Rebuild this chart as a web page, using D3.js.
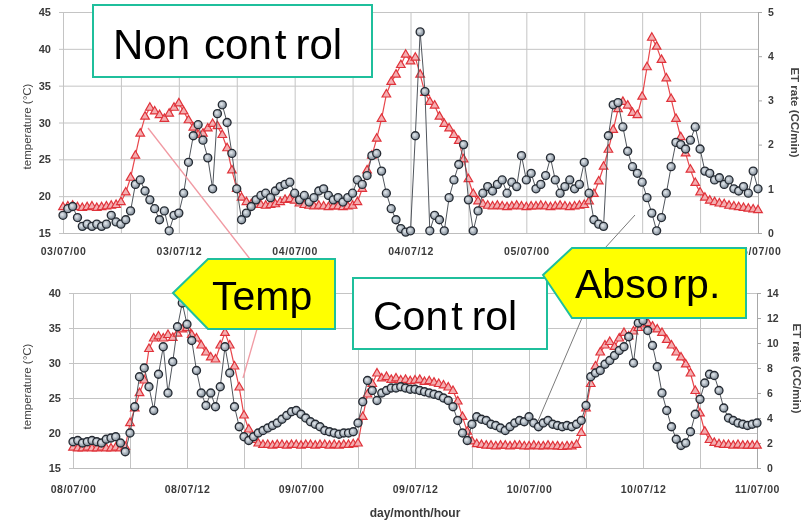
<!DOCTYPE html>
<html>
<head>
<meta charset="utf-8">
<script src="https://cdn.jsdelivr.net/npm/d3@7"></script>
<style>
  body { margin: 0; background: #fff; }
  svg { display: block; }
</style>
</head>
<body>
<svg id="chart" width="809" height="525"></svg>
<script>
// Sampling interval of the logged series (hours)
const stepHours = 0.5;

const topDateLabels = ["03/07/00", "03/07/12", "04/07/00", "04/07/12", "05/07/00", "05/07/12", "06/07/00"];
const bottomDateLabels = ["08/07/00", "08/07/12", "09/07/00", "09/07/12", "10/07/00", "10/07/12", "11/07/00"];
const topTempTicks = [15, 20, 25, 30, 35, 40, 45];
const topEtTicks = [0, 1, 2, 3, 4, 5];
const bottomTempTicks = [15, 20, 25, 30, 35, 40];
const bottomEtTicks = [0, 2, 4, 6, 8, 10, 12, 14];

// Non-controlled run, 03/07 00:00 – 06/07 00:00
const topTemp = [
  18.5, 18.6, 18.7, 18.5, 18.4, 18.5, 18.6, 18.4, 18.5, 18.6, 18.7, 18.8,
  19.2, 20.5, 22.5, 25.5, 28.5, 30.8, 32.0, 31.5, 31.0, 30.5, 31.2, 32.0,
  32.6, 31.5, 30.3, 29.3, 28.3, 28.5, 29.2, 29.8, 29.5, 28.3, 26.5, 23.5,
  21.0, 19.8, 19.2, 18.9, 18.8, 18.8, 18.7, 18.8, 18.9, 19.2, 19.5, 19.6,
  19.4, 19.0, 18.8, 18.7, 18.6, 18.7, 18.6, 18.5, 18.6, 18.6, 18.5, 18.6,
  18.7, 19.2, 21.0, 23.5, 25.5, 27.8, 30.5, 33.8, 35.5, 36.5, 37.8, 39.2,
  38.3, 38.8, 36.5, 34.0, 32.8, 32.3, 30.8, 29.8, 29.2, 28.3, 27.5, 25.0,
  22.3, 20.3, 19.3, 18.9, 18.7, 18.6, 18.7, 18.6, 18.5, 18.6, 18.7, 18.6,
  18.5, 18.6, 18.6, 18.7, 18.6, 18.5, 18.6, 18.7, 18.6, 18.5, 18.6, 18.7,
  18.8, 19.3, 20.3, 22.0, 24.0, 26.3, 29.0, 31.8, 32.8, 32.3, 31.3, 31.0,
  33.5, 37.5, 41.5, 40.3, 38.5, 36.0, 33.2, 30.5, 28.0, 25.8, 23.6, 21.8,
  20.5, 19.8, 19.4, 19.2, 19.0, 18.9, 18.7, 18.6, 18.5, 18.4, 18.3, 18.2,
  18.1
];
const topEt = [
  0.40, 0.55, 0.60, 0.35, 0.15, 0.20, 0.15, 0.20, 0.15, 0.20, 0.40, 0.25,
  0.20, 0.30, 0.50, 1.10, 1.20, 0.95, 0.75, 0.55, 0.30, 0.50, 0.05, 0.40,
  0.45, 0.90, 1.60, 2.20, 2.45, 2.10, 1.70, 1.00, 2.70, 2.90, 2.50, 1.80,
  1.00, 0.30, 0.45, 0.60, 0.75, 0.85, 0.90, 0.80, 0.95, 1.05, 1.10, 1.15,
  0.90, 0.75, 0.85, 0.70, 0.80, 0.95, 1.00, 0.85, 0.75, 0.80, 0.70, 0.80,
  0.90, 1.20, 1.10, 1.30, 1.75, 1.80, 1.40, 0.90, 0.55, 0.30, 0.10, 0.02,
  0.05, 2.20, 4.55, 3.20, 0.05, 0.40, 0.30, 0.05, 0.80, 1.20, 1.55, 2.00,
  0.75, 0.05, 0.50, 0.90, 1.05, 0.95, 1.10, 1.20, 0.90, 1.15, 1.05, 1.75,
  1.20, 1.35, 1.00, 1.10, 1.30, 1.70, 1.20, 0.90, 1.05, 1.20, 1.00, 1.10,
  1.60, 0.90, 0.30, 0.20, 0.15, 2.20, 2.90, 2.95, 2.40, 1.85, 1.50, 1.35,
  1.15, 0.80, 0.45, 0.05, 0.35, 0.90, 1.50, 2.05, 2.00, 1.90, 2.10, 2.40,
  1.90, 1.40, 1.35, 1.20, 1.25, 1.10, 1.20, 1.00, 0.95, 1.05, 0.90, 1.40,
  1.00
];

// Controlled run, 08/07 00:00 – 11/07 00:00
const bottomTemp = [
  17.9, 17.8, 17.8, 17.9, 17.8, 17.8, 17.9, 17.8, 17.8, 17.9, 17.8, 18.0,
  21.4, 23.5, 25.7, 27.5, 32.0, 33.5, 33.8, 33.5, 34.0, 33.6, 34.2, 34.8,
  35.0, 34.0, 33.5, 32.5, 31.5, 30.8, 30.5, 32.5, 34.3, 32.5, 29.5, 26.5,
  22.5, 20.5, 19.0, 18.5, 18.3, 18.3, 18.2, 18.3, 18.3, 18.2, 18.3, 18.3,
  18.2, 18.3, 18.3, 18.2, 18.3, 18.3, 18.2, 18.3, 18.2, 18.3, 18.3, 18.4,
  18.5, 22.3, 25.5, 27.0, 28.5, 27.8, 28.0, 27.6, 27.8, 27.5, 27.6, 27.4,
  27.5, 27.6, 27.3, 27.4, 27.2, 27.0, 26.8, 26.5, 26.0, 24.5, 22.3, 20.2,
  18.8, 18.4, 18.3, 18.2, 18.2, 18.1, 18.2, 18.2, 18.1, 18.2, 18.2, 18.1,
  18.1, 18.2, 18.1, 18.1, 18.2, 18.1, 18.1, 18.0, 18.1, 18.1, 18.3, 20.0,
  23.5, 27.0, 29.5, 31.5, 32.5, 33.0, 32.3, 33.5, 34.3, 33.8, 34.5, 35.0,
  35.5, 35.7, 35.2, 34.8, 34.3, 33.3, 32.5, 31.5, 30.8, 29.8, 28.5, 26.0,
  22.8, 20.2, 19.0, 18.6, 18.4, 18.3, 18.3, 18.2, 18.3, 18.2, 18.2, 18.2,
  18.2
];
const bottomEt = [
  2.1, 2.2, 2.0, 2.1, 2.2, 2.1, 2.0, 2.3, 2.4, 2.5, 2.0, 1.3,
  2.8, 4.9, 7.3, 8.0, 6.5, 4.6, 7.5, 9.7, 6.0, 8.5, 11.3, 13.2,
  11.5, 10.2, 7.8, 6.0, 5.0, 6.0, 4.9, 6.5, 9.7, 7.6, 4.9, 3.3,
  2.5, 2.2, 2.5, 2.8, 3.0, 3.2, 3.4, 3.6, 3.9, 4.2, 4.5, 4.6,
  4.3, 4.0, 3.7, 3.5, 3.3, 3.0, 2.9, 2.8, 2.7, 2.8, 2.8, 2.9,
  3.6, 5.3, 7.0, 6.2, 5.4, 6.0, 6.2, 6.4, 6.4, 6.5, 6.4, 6.3,
  6.3, 6.2, 6.1, 6.0, 5.9, 5.8, 5.6, 5.4, 4.9, 3.8, 2.8, 2.2,
  3.5, 4.1, 3.9, 3.8, 3.5, 3.4, 3.2, 3.0, 3.3, 3.6, 3.8, 3.7,
  4.1, 3.6, 3.3, 3.6, 3.8, 3.5, 3.4, 3.3, 3.4, 3.3, 3.5, 3.8,
  5.0, 7.3, 7.6, 7.8, 8.3, 8.6, 9.0, 9.4, 9.7, 10.5, 8.4, 11.6,
  11.8, 11.0, 9.8, 8.1, 6.0, 4.6, 3.3, 2.3, 1.8, 2.0, 2.9, 4.3,
  5.5, 6.8, 7.5, 7.4, 6.2, 4.8, 4.0, 3.8, 3.6, 3.5, 3.4, 3.5,
  3.6
];

const svg = d3.select("#chart");
const FONT = "'Liberation Sans', Arial, sans-serif";

const defs = svg.append("defs");
defs.append("filter").attr("id", "soft")
  .attr("x", "-5%").attr("y", "-5%").attr("width", "110%").attr("height", "110%")
  .append("feGaussianBlur").attr("stdDeviation", 0.45);
const grad = defs.append("radialGradient").attr("id", "bead").attr("cx", "40%").attr("cy", "40%").attr("r", "60%");
grad.append("stop").attr("offset", "0%").attr("stop-color", "#e6ebf0");
grad.append("stop").attr("offset", "100%").attr("stop-color", "#7d8995");

function drawPanel(cfg) {
  const g = svg.append("g").attr("filter", "url(#soft)");
  const x = d3.scaleLinear().domain([0, 72]).range([cfg.left, cfg.right]);
  const yT = d3.scaleLinear().domain(cfg.tempDomain).range([cfg.bottom, cfg.top]);
  const yE = d3.scaleLinear().domain(cfg.etDomain).range([cfg.bottom, cfg.top]);

  // horizontal grid + left tick labels
  const left = g.append("g").attr("transform", `translate(${cfg.left},0)`)
    .call(d3.axisLeft(yT).tickValues(cfg.tempTicks).tickSize(-(cfg.right - cfg.left)).tickPadding(12));
  left.select(".domain").remove();
  left.selectAll(".tick line").attr("stroke", "#c4c4c4").attr("x1", -4);
  left.selectAll(".tick text").attr("font-family", FONT).attr("font-size", 11)
    .attr("font-weight", "bold").attr("fill", "#3a3a3a");

  // vertical grid every 6 h + date labels every 12 h
  const vgrid = g.append("g").attr("transform", `translate(0,${cfg.bottom})`)
    .call(d3.axisBottom(x).tickValues(d3.range(0, 73, 6)).tickSize(-(cfg.bottom - cfg.top)).tickFormat(""));
  vgrid.select(".domain").remove();
  vgrid.selectAll(".tick line").attr("stroke", "#c4c4c4");

  const xa = g.append("g").attr("transform", `translate(0,${cfg.bottom})`)
    .call(d3.axisBottom(x).tickValues([0, 12, 24, 36, 48, 60, 72])
      .tickFormat((d, i) => cfg.dateLabels[i]).tickSize(0).tickPadding(cfg.labelPad));
  xa.select(".domain").attr("stroke", "#bdbdbd");
  xa.selectAll(".tick text").attr("font-family", FONT).attr("font-size", 10.5)
    .attr("font-weight", "bold").attr("fill", "#3a3a3a").attr("letter-spacing", 0.6);

  // right axis (ET rate)
  const ra = g.append("g").attr("transform", `translate(${cfg.right},0)`)
    .call(d3.axisRight(yE).tickValues(cfg.etTicks).tickFormat(d3.format("d")).tickSize(4).tickPadding(6));
  ra.select(".domain").attr("stroke", "#a8a8a8");
  ra.selectAll(".tick line").attr("stroke", "#a8a8a8");
  ra.selectAll(".tick text").attr("font-family", FONT).attr("font-size", 10.5)
    .attr("font-weight", "bold").attr("fill", "#3a3a3a");

  // axis titles
  const midY = (cfg.top + cfg.bottom) / 2;
  g.append("text").attr("transform", `translate(${cfg.leftTitleX},${midY + cfg.leftTitleDy}) rotate(-90)`)
    .attr("text-anchor", "middle").attr("font-family", FONT).attr("font-size", 11.5)
    .attr("fill", "#444").text("temperature (°C)");
  g.append("text").attr("transform", `translate(${cfg.rightTitleX},${midY + cfg.rightTitleDy}) rotate(90)`)
    .attr("text-anchor", "middle").attr("font-family", FONT).attr("font-size", 11.5)
    .attr("font-weight", "bold").attr("fill", "#444").text("ET rate (CC/min)");

  // temperature: red triangles
  const tLine = d3.line().x((d, i) => x(i * stepHours)).y(d => yT(d));
  g.append("path").datum(cfg.temp).attr("d", tLine).attr("fill", "none")
    .attr("stroke", "#e8474c").attr("stroke-width", 1.2);
  const tri = d3.symbol(d3.symbolTriangle, 32);
  g.append("g").selectAll("path").data(cfg.temp).join("path")
    .attr("d", tri)
    .attr("transform", (d, i) => `translate(${x(i * stepHours)},${yT(d)})`)
    .attr("fill", "#f4aeb1").attr("stroke", "#e0333a").attr("stroke-width", 1.2);

  // ET rate: grey beads on a thin line
  const eLine = d3.line().x((d, i) => x(i * stepHours)).y(d => yE(d));
  g.append("path").datum(cfg.et).attr("d", eLine).attr("fill", "none")
    .attr("stroke", "#50555c").attr("stroke-width", 1);
  g.append("g").selectAll("circle").data(cfg.et).join("circle")
    .attr("cx", (d, i) => x(i * stepHours)).attr("cy", d => yE(d)).attr("r", 4)
    .attr("fill", "url(#bead)").attr("stroke", "#252b33").attr("stroke-width", 1.3);
}

drawPanel({
  left: 63, right: 758, top: 12, bottom: 233,
  tempDomain: [15, 45], etDomain: [0, 5],
  tempTicks: topTempTicks, etTicks: topEtTicks, dateLabels: topDateLabels,
  temp: topTemp, et: topEt, labelPad: 15,
  leftTitleX: 31, leftTitleDy: 4, rightTitleX: 791, rightTitleDy: -10
});
drawPanel({
  left: 73, right: 757, top: 293, bottom: 468,
  tempDomain: [15, 40], etDomain: [0, 14],
  tempTicks: bottomTempTicks, etTicks: bottomEtTicks, dateLabels: bottomDateLabels,
  temp: bottomTemp, et: bottomEt, labelPad: 18,
  leftTitleX: 31, leftTitleDy: 6, rightTitleX: 793, rightTitleDy: -12
});

svg.append("text").attr("x", 415).attr("y", 517).attr("text-anchor", "middle")
  .attr("font-family", FONT).attr("font-size", 12).attr("font-weight", "bold")
  .attr("fill", "#3a3a3a").attr("filter", "url(#soft)").text("day/month/hour");

// annotation leader lines
const notes = svg.append("g");
notes.append("line").attr("x1", 148).attr("y1", 128).attr("x2", 250).attr("y2", 259)
  .attr("stroke", "#f19aa3").attr("stroke-width", 1.3);
notes.append("line").attr("x1", 257).attr("y1", 329).attr("x2", 243).attr("y2", 378)
  .attr("stroke", "#f19aa3").attr("stroke-width", 1.3);
notes.append("line").attr("x1", 605).attr("y1", 248).attr("x2", 635).attr("y2", 215)
  .attr("stroke", "#7a7a7a").attr("stroke-width", 1);
notes.append("line").attr("x1", 582).attr("y1", 318).attr("x2", 538).attr("y2", 421)
  .attr("stroke", "#7a7a7a").attr("stroke-width", 1);

const TEAL = "#1fbf9c";
const BIG = "'Liberation Sans', Arial, sans-serif";

// boxed labels
notes.append("rect").attr("x", 93).attr("y", 5).attr("width", 279).attr("height", 72)
  .attr("fill", "#fff").attr("stroke", TEAL).attr("stroke-width", 2);
const t1 = notes.append("text").attr("x", 113).attr("y", 59).attr("font-family", BIG)
  .attr("font-size", 42).attr("fill", "#000");
t1.append("tspan").text("Non");
t1.append("tspan").attr("dx", 14).text("con");
t1.append("tspan").attr("dx", 3).text("t");
t1.append("tspan").attr("dx", 9).text("rol");

notes.append("rect").attr("x", 353).attr("y", 278).attr("width", 194).attr("height", 71)
  .attr("fill", "#fff").attr("stroke", TEAL).attr("stroke-width", 2);
const t2 = notes.append("text").attr("x", 373).attr("y", 330).attr("font-family", BIG)
  .attr("font-size", 41).attr("fill", "#000");
t2.append("tspan").text("Con");
t2.append("tspan").attr("dx", 3).text("t");
t2.append("tspan").attr("dx", 9).text("rol");

// arrow callouts
notes.append("path").attr("d", "M173,293 L208,259 L335,259 L335,329 L208,329 Z")
  .attr("fill", "#ffff00").attr("stroke", TEAL).attr("stroke-width", 2);
notes.append("text").attr("x", 212).attr("y", 310).attr("font-family", BIG)
  .attr("font-size", 41).attr("fill", "#000").text("Temp");

notes.append("path").attr("d", "M543,275 L572,248 L746,248 L746,318 L572,318 Z")
  .attr("fill", "#ffff00").attr("stroke", TEAL).attr("stroke-width", 2);
const t3 = notes.append("text").attr("x", 575).attr("y", 298).attr("font-family", BIG)
  .attr("font-size", 41).attr("fill", "#000");
t3.append("tspan").text("Abso");
t3.append("tspan").attr("dx", 4).text("rp.");
</script>
</body>
</html>
